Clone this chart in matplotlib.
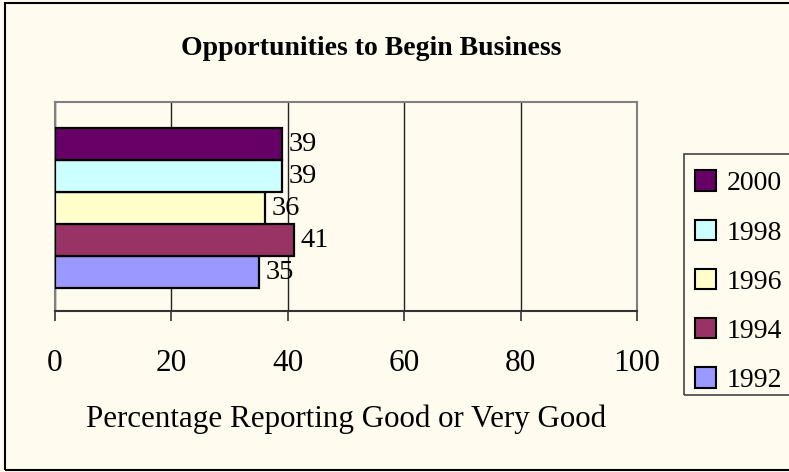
import matplotlib
matplotlib.use("Agg")
import matplotlib.pyplot as plt
from matplotlib.patches import Patch, Rectangle
import numpy as np

years = ["1992", "1994", "1996", "1998", "2000"]
values = [35, 41, 36, 39, 39]
colors = ["#9999FF", "#993366", "#FFFFCC", "#CCFFFF", "#660066"]
xticks = [0, 20, 40, 60, 80, 100]
title = "Opportunities to Begin Business"
xlabel = "Percentage Reporting Good or Very Good"

plt.rcParams['font.family'] = ['Liberation Serif', 'DejaVu Serif']
bg = "#FFFCEF"

fig = plt.figure(figsize=(7.89, 4.72), dpi=100, facecolor=bg)
W, H = 789, 472
ax = fig.add_axes([55 / W, 1 - 311 / H, (637 - 55) / W, (311 - 102) / H])
ax.set_facecolor(bg)

pos = np.arange(len(years))
ax.barh(pos, values, height=1.0, color=colors, edgecolor="black", linewidth=1.6, zorder=3)
for p, v in zip(pos, values):
    ax.annotate(str(v), (v, p), xytext=(5, -0.5), textcoords="offset points",
                va="center", ha="left", fontsize=20.5, zorder=4)

ax.set_xlim(0, 100)
ax.set_ylim(-1.22, 5.31)
ax.set_xticks(xticks)
ax.set_xticklabels([str(t) for t in xticks], fontsize=22.5)
ax.set_yticks([])
ax.tick_params(axis="x", direction="out", length=7.2, width=1.2, color="#333333", pad=20)
ax.grid(axis="x", color="#222222", linewidth=1.0, zorder=1)
for s in ["left", "top", "right"]:
    ax.spines[s].set_color("#808080")
    ax.spines[s].set_linewidth(1.5)
ax.spines["bottom"].set_color("#333333")
ax.spines["bottom"].set_linewidth(1.5)
ax.set_xlabel(xlabel, fontsize=22.3, labelpad=19)

fig.text(371 / W, 1 - 55 / H, title, ha="center", va="baseline", fontsize=20, fontweight="bold")

handles = [Patch(facecolor=c, edgecolor="black", linewidth=1.5) for c in colors[::-1]]
leg = fig.legend(handles, years[::-1], loc="upper left", bbox_to_anchor=(695 / W, 1 - 170.5 / H),
                 fontsize=20, frameon=False, handlelength=0.75, handleheight=0.75,
                 handletextpad=0.385, labelspacing=0.84, borderpad=0, borderaxespad=0)
fig.patches.append(Rectangle((684 / W, 1 - 395 / H), 0.5, (395 - 154) / H, transform=fig.transFigure,
                             fill=False, edgecolor="#444444", linewidth=1.2))

fig.patches.append(Rectangle((5 / W, 2 / H), 1.2, 1 - 5 / H, transform=fig.transFigure,
                             fill=False, edgecolor="black", linewidth=1.5))

fig.savefig("out.png", dpi=100, facecolor=bg)
